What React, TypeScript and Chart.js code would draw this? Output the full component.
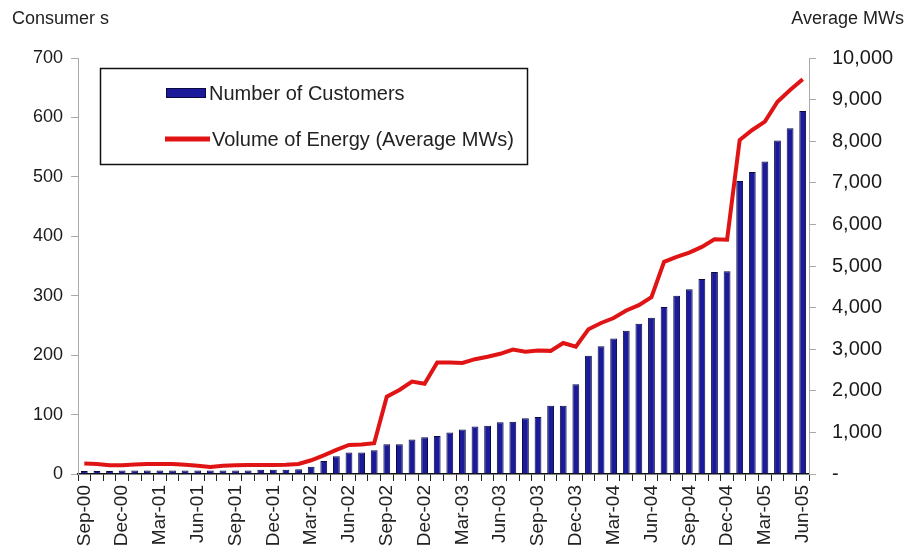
import React, { useEffect, useRef } from "react";
import { Chart, registerables } from "chart.js";

Chart.register(...registerables);

const months = [
  "Sep-00", "Oct-00", "Nov-00", "Dec-00",
  "Jan-01", "Feb-01", "Mar-01", "Apr-01", "May-01", "Jun-01", "Jul-01", "Aug-01", "Sep-01", "Oct-01", "Nov-01", "Dec-01",
  "Jan-02", "Feb-02", "Mar-02", "Apr-02", "May-02", "Jun-02", "Jul-02", "Aug-02", "Sep-02", "Oct-02", "Nov-02", "Dec-02",
  "Jan-03", "Feb-03", "Mar-03", "Apr-03", "May-03", "Jun-03", "Jul-03", "Aug-03", "Sep-03", "Oct-03", "Nov-03", "Dec-03",
  "Jan-04", "Feb-04", "Mar-04", "Apr-04", "May-04", "Jun-04", "Jul-04", "Aug-04", "Sep-04", "Oct-04", "Nov-04", "Dec-04",
  "Jan-05", "Feb-05", "Mar-05", "Apr-05", "May-05", "Jun-05",
];

const customers = [
  5, 5, 5, 6, 6, 6, 6, 6, 6, 6, 6, 6, 6, 6, 7, 7, 7, 8,
  12, 22, 30, 36, 36, 40, 50, 50, 58, 62, 64, 70, 75, 80, 81, 87, 88, 94, 96, 115, 115, 151,
  199, 215, 228, 241, 253, 263, 281, 300, 311, 328, 340, 341,
  493, 508, 526, 561, 582, 611,
];

const energyMW = [
  250, 240, 210, 210, 230, 240, 240, 240, 220, 200, 170, 200, 210, 215, 215, 215, 220, 240,
  330, 450, 580, 700, 710, 740, 1860, 2020, 2220, 2170, 2680, 2680, 2670, 2760, 2820, 2890,
  2990, 2940, 2970, 2960, 3150, 3060, 3480, 3630, 3750, 3930, 4060, 4250, 5100, 5220, 5320,
  5460, 5640, 5630, 8030, 8270, 8470, 8950, 9230, 9490,
];

const seriesNames = ["Number of Customers", "Volume of Energy (Average MWs)"];
const leftTitle = "Consumer s";
const rightTitle = "Average MWs";

const FONT = "'Liberation Sans', Arial, sans-serif";
const BAR_COLOR = "#1a1a9a";
const LINE_COLOR = "#e01414";

const overlayPlugin = {
  id: "overlay",
  afterDraw(chart: any) {
    const ctx = chart.ctx;
    ctx.save();
    ctx.fillStyle = "#222";
    ctx.font = `18px ${FONT}`;
    ctx.textBaseline = "middle";
    ctx.textAlign = "left";
    ctx.fillText(leftTitle, 12, 19);
    ctx.textAlign = "right";
    ctx.fillText(rightTitle, 904, 19);

    // legend box
    ctx.strokeStyle = "#111";
    ctx.lineWidth = 1.5;
    ctx.strokeRect(100.5, 68.5, 427, 96);
    // bar swatch
    ctx.fillStyle = BAR_COLOR;
    ctx.fillRect(166, 88, 40, 10);
    ctx.strokeStyle = "#0a0a40";
    ctx.lineWidth = 1;
    ctx.strokeRect(166.5, 88.5, 39, 9);
    // line swatch
    ctx.strokeStyle = LINE_COLOR;
    ctx.lineWidth = 5;
    ctx.beginPath();
    ctx.moveTo(165, 139);
    ctx.lineTo(210, 139);
    ctx.stroke();

    ctx.fillStyle = "#222";
    ctx.font = `20px ${FONT}`;
    ctx.textAlign = "left";
    ctx.fillText(seriesNames[0], 209, 94);
    ctx.fillText(seriesNames[1], 212, 140);
    ctx.restore();
  },
};

export default function App() {
  const ref = useRef<HTMLCanvasElement | null>(null);

  useEffect(() => {
    if (!ref.current) return;
    const chart = new Chart(ref.current, {
      type: "bar",
      data: {
        labels: months,
        datasets: [
          {
            type: "line",
            label: seriesNames[1],
            data: energyMW,
            yAxisID: "yR",
            borderColor: LINE_COLOR,
            borderWidth: 4,
            pointRadius: 0,
            tension: 0,
            order: 0,
          } as any,
          {
            type: "bar",
            label: seriesNames[0],
            data: customers,
            yAxisID: "yL",
            backgroundColor: BAR_COLOR,
            borderColor: "#0a0a40",
            borderWidth: 1,
            barPercentage: 0.9,
            categoryPercentage: 0.6,
            order: 1,
          },
        ],
      },
      options: {
        responsive: false,
        animation: false,
        layout: { padding: { top: 58, left: 0, right: 0, bottom: 0 } },
        plugins: { legend: { display: false }, tooltip: { enabled: false } },
        scales: {
          x: {
            afterFit: (s: any) => { s.height = 78; },
            grid: { drawOnChartArea: false, tickLength: 7, color: "#222", offset: true },
            border: { color: "#111", width: 1.5 },
            ticks: {
              autoSkip: false,
              minRotation: 90,
              maxRotation: 90,
              padding: 4,
              color: "#222",
              font: { family: FONT, size: 19 },
              callback: (_v: any, i: number) => (i % 3 === 0 ? months[i] : ""),
            },
          },
          yL: {
            position: "left",
            min: 0,
            max: 700,
            afterFit: (s: any) => { s.width = 78; },
            grid: { drawOnChartArea: false, tickLength: 7, color: "#aaa" },
            border: { color: "#aaa" },
            ticks: {
              stepSize: 100,
              padding: 8,
              color: "#1a1a1a",
              font: { family: FONT, size: 18 },
            },
          },
          yR: {
            position: "right",
            min: 0,
            max: 10000,
            afterFit: (s: any) => { s.width = 99; },
            grid: { drawOnChartArea: false, tickLength: 7, color: "#aaa" },
            border: { color: "#aaa" },
            ticks: {
              stepSize: 1000,
              padding: 16,
              color: "#1a1a1a",
              font: { family: FONT, size: 20 },
              callback: (v: any) => (v === 0 ? "-" : Number(v).toLocaleString("en-US")),
            },
          },
        },
      },
      plugins: [overlayPlugin],
    });
    return () => chart.destroy();
  }, []);

  return (
    <div style={{ position: "fixed", left: 0, top: 0, width: 908, height: 552, background: "#fff" }}>
      <canvas ref={ref} width={908} height={552} style={{ width: 908, height: 552 }} />
    </div>
  );
}
